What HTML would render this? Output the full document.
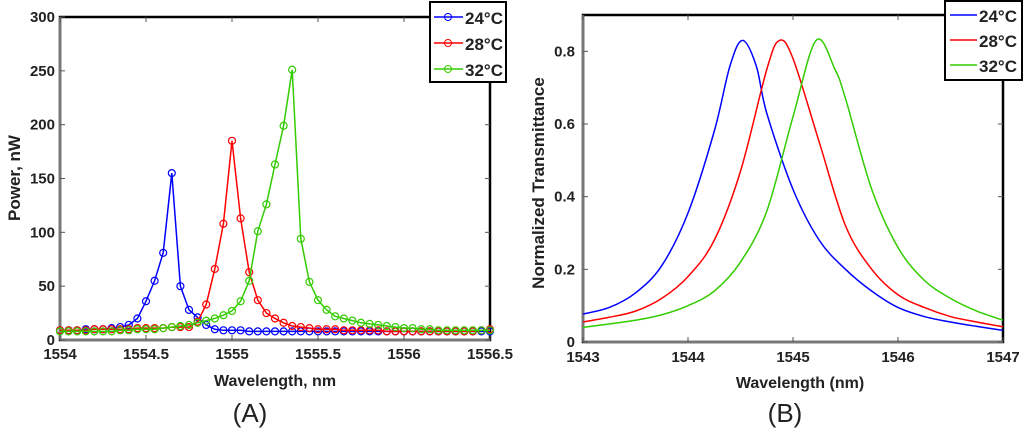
<!DOCTYPE html>
<html><head><meta charset="utf-8"><style>
body{margin:0;background:#fff;width:1024px;height:435px;overflow:hidden}
text{font-family:"Liberation Sans",sans-serif}
</style></head><body>
<svg id="s" width="1024" height="435" xmlns="http://www.w3.org/2000/svg"></svg>
<script>
// ---- Chart A data ----
const aX0 = 1554, aStep = 0.05;
const aBlue = [9,9,9,10,10,10,11,12,14,20,36,55,81,155,50,28,21,14,10,9,9,9,8,8,8,8,8,8,8,8,8,8,8,8,8,8,8,8,8,8,8,8,8,8,8,8,8,8,8,8,8];
const aRed  = [9,9,9,9,10,10,10,10,10,11,11,11,11,12,12,12,17,33,66,108,185,113,63,37,25,20,16,13,12,11,10,10,10,9,9,9,9,9,8,8,8,8,8,8,8,8,8,8,8,9,10];
const aGreen= [8,8,8,8,8,8,8,9,9,10,10,10,11,12,13,14,16,18,20,23,27,36,55,101,126,163,199,251,94,54,37,28,22,20,18,16,15,14,13,12,11,11,10,10,9,9,9,9,9,9,9];
const aXTicks = [1554,1554.5,1555,1555.5,1556,1556.5];
const aXLabels = ["1554","1554.5","1555","1555.5","1556","1556.5"];
const aYTicks = [0,50,100,150,200,250,300];
// ---- Chart B data ----
const bBlueX = [1543,1543.25,1543.5,1543.75,1544,1544.25,1544.4,1544.52,1544.65,1544.75,1545,1545.25,1545.5,1545.75,1546,1546.25,1546.5,1546.75,1547];
const bBlueY = [0.077,0.095,0.135,0.21,0.355,0.58,0.76,0.83,0.76,0.63,0.42,0.28,0.2,0.14,0.095,0.07,0.055,0.043,0.032];
const bRedX = [1543,1543.25,1543.5,1543.75,1544,1544.25,1544.5,1544.75,1544.87,1545,1545.25,1545.5,1545.75,1546,1546.25,1546.5,1546.75,1547];
const bRedY = [0.055,0.068,0.085,0.12,0.18,0.28,0.47,0.75,0.83,0.78,0.55,0.32,0.2,0.13,0.095,0.07,0.055,0.042];
const bGreenX = [1543,1543.5,1543.75,1544,1544.25,1544.5,1544.75,1545,1545.22,1545.4,1545.5,1545.75,1546,1546.25,1546.5,1546.75,1547];
const bGreenY = [0.04,0.06,0.075,0.1,0.14,0.22,0.36,0.62,0.83,0.75,0.67,0.42,0.26,0.17,0.12,0.085,0.06];
const bXTicks = [1543,1544,1545,1546,1547];
const bYTicks = [0,0.2,0.4,0.6,0.8];
const legendLabels = ["24°C","28°C","32°C"];
const colors = ["#0000ff","#ff0000","#33cc00"];

const NS="http://www.w3.org/2000/svg", svg=document.getElementById('s');
function mk(tag,attrs,parent){const e=document.createElementNS(NS,tag);for(const k in attrs)e.setAttribute(k,attrs[k]);(parent||svg).appendChild(e);return e;}

function frame(L,T,R,B,name){
  const g=mk('g',{});
  
  
  mk('rect',{x:L,y:T,width:R-L,height:B-T,fill:'#fff',stroke:'#000','stroke-width':2.5},g);
  mk('line',{x1:L,y1:T,x2:L,y2:B,stroke:'#777','stroke-width':2.5},g);
  mk('line',{x1:L,y1:B,x2:R,y2:B,stroke:'#777','stroke-width':2.5},g);
  return g;
}
function text(x,y,s,opts,name){
  const t=mk('text',Object.assign({x:x,y:y,'text-anchor':'middle','font-weight':'bold','font-size':15,fill:'#222'},opts||{}));
  t.textContent=s;
  
  
  return t;
}
function smoothPath(pts){
  let d='M'+pts[0][0]+','+pts[0][1];
  for(let i=0;i<pts.length-1;i++){
    const p0=pts[Math.max(0,i-1)],p1=pts[i],p2=pts[i+1],p3=pts[Math.min(pts.length-1,i+2)];
    const c1=[p1[0]+(p2[0]-p0[0])/6,p1[1]+(p2[1]-p0[1])/6],c2=[p2[0]-(p3[0]-p1[0])/6,p2[1]-(p3[1]-p1[1])/6];
    d+=' C'+c1+' '+c2+' '+p2;
  }
  return d;
}

// ===== Chart A =====
{
const L=60,T=17,R=490,B=340;
const xs=v=>L+(v-1554)/(1556.5-1554)*(R-L), ys=v=>B-v/300*(B-T);
frame(L,T,R,B,'plot-area-a');
aXTicks.forEach((v,i)=>{
  mk('line',{x1:xs(v),y1:B,x2:xs(v),y2:B-5,stroke:'#555'});mk('line',{x1:xs(v),y1:T,x2:xs(v),y2:T+5,stroke:'#555'});
  text(xs(v),359,aXLabels[i],{},'x-tick-label-a');
});
aYTicks.forEach(v=>{
  mk('line',{x1:L,y1:ys(v),x2:L+5,y2:ys(v),stroke:'#555'});mk('line',{x1:R,y1:ys(v),x2:R-5,y2:ys(v),stroke:'#555'});
  text(L-5,ys(v)+5,String(v),{'text-anchor':'end'},'y-tick-label-a');
});
[aBlue,aRed,aGreen].forEach((arr,si)=>{
  const g=mk('g',{});
  
  
  const pts=arr.map((v,i)=>[xs(aX0+i*aStep),ys(v)]);
  mk('polyline',{points:pts.map(p=>p.join(',')).join(' '),fill:'none',stroke:colors[si],'stroke-width':1.5},g);
  pts.forEach(p=>mk('circle',{cx:p[0],cy:p[1],r:3.5,fill:'none',stroke:colors[si],'stroke-width':1.2},g));
});
text(275,386,'Wavelength, nm',{'font-size':16},'x-axis-title-a');
text(0,0,'Power, nW',{'font-size':17,transform:'translate(20,178) rotate(-90)'},'y-axis-title-a');
text(250,422,'(A)',{'font-weight':'normal','font-size':26},'panel-label-a');
const lg=mk('g',{});


mk('rect',{x:430,y:2,width:76,height:80,fill:'#fff',stroke:'#000','stroke-width':2},lg);
legendLabels.forEach((s,i)=>{const y=17+i*26;
  mk('line',{x1:434,y1:y,x2:463,y2:y,stroke:colors[i],'stroke-width':1.5},lg);
  mk('circle',{cx:448,cy:y,r:3.5,fill:'none',stroke:colors[i]},lg);
  text(465,y+7,s,{'text-anchor':'start','font-size':17},'legend-entry-a');});
}
// ===== Chart B =====
{
const L=583,T=15,R=1003,B=342;
const xs=v=>L+(v-1543)/4*(R-L), ys=v=>B-v/0.9*(B-T);
frame(L,T,R,B,'plot-area-b');
bXTicks.forEach(v=>{
  mk('line',{x1:xs(v),y1:B,x2:xs(v),y2:B-5,stroke:'#555'});mk('line',{x1:xs(v),y1:T,x2:xs(v),y2:T+5,stroke:'#555'});
  text(xs(v),362,String(v),{},'x-tick-label-b');
});
bYTicks.forEach(v=>{
  mk('line',{x1:L,y1:ys(v),x2:L+5,y2:ys(v),stroke:'#555'});mk('line',{x1:R,y1:ys(v),x2:R-5,y2:ys(v),stroke:'#555'});
  text(L-8,ys(v)+5,v===0?'0':String(v),{'text-anchor':'end'},'y-tick-label-b');
});
[[bBlueX,bBlueY],[bRedX,bRedY],[bGreenX,bGreenY]].forEach((s,si)=>{
  const p=mk('path',{d:smoothPath(s[0].map((x,i)=>[xs(x),ys(s[1][i])])),fill:'none',stroke:colors[si],'stroke-width':1.5});
  
  
});
text(800,388,'Wavelength (nm)',{'font-size':16},'x-axis-title-b');
text(0,0,'Normalized Transmittance',{'font-size':17,transform:'translate(544,183) rotate(-90)'},'y-axis-title-b');
text(785,422,'(B)',{'font-weight':'normal','font-size':26},'panel-label-b');
const lg=mk('g',{});


mk('rect',{x:945,y:1,width:77,height:79,fill:'#fff',stroke:'#000','stroke-width':2},lg);
legendLabels.forEach((s,i)=>{const y=15+i*25;
  mk('line',{x1:950,y1:y,x2:977,y2:y,stroke:colors[i],'stroke-width':1.5},lg);
  text(979,y+7,s,{'text-anchor':'start','font-size':17},'legend-entry-b');});
}
</script>
</body></html>
